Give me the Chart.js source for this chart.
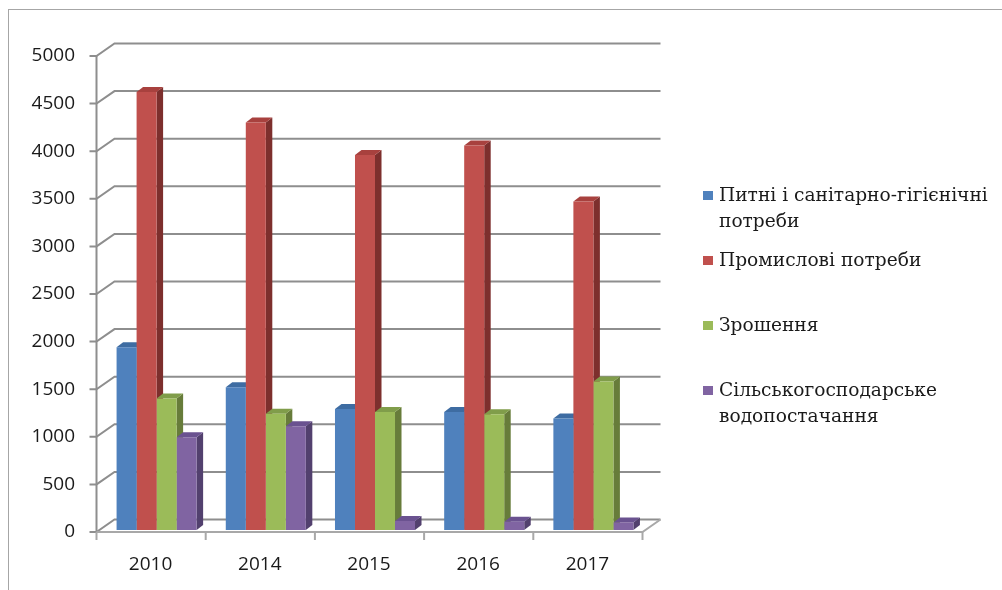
<!DOCTYPE html>
<html>
<head>
<meta charset="utf-8">
<script src="https://cdn.jsdelivr.net/npm/chart.js@4/dist/chart.umd.min.js"></script>
<style>
  html, body { margin: 0; padding: 0; background: #fff; }
  #wrap { position: relative; width: 1002px; height: 590px; overflow: hidden; }
  #frame { position: absolute; left: 8px; top: 9px; width: 1010px; height: 600px; border: 1.5px solid #a6a6a6; box-sizing: border-box; }
  canvas { position: absolute; left: 0; top: 0; }
  #legend { position: absolute; left: 0; top: 0; font-family: 'DejaVu Serif', serif; font-size: 18.6px; color: #1a1a1a; }
  .item { position: absolute; left: 719px; line-height: 26px; white-space: nowrap; }
  .mark { position: absolute; left: -16px; top: 9px; width: 10px; height: 9px; }
</style>
</head>
<body>
<div id="wrap">
  <div id="frame"></div>
  <canvas id="c" width="1002" height="590"></canvas>
  <div id="legend"></div>
</div>
<script>
// ---- data ----
const categories = ['2010', '2014', '2015', '2016', '2017'];
const drinking = [1920, 1500, 1270, 1240, 1170];
const industrial = [4600, 4280, 3940, 4040, 3450];
const irrigation = [1380, 1220, 1240, 1215, 1560];
const agricultural = [975, 1090, 95, 87, 80];
const seriesNames = [
  ['Питні і санітарно-гігієнічні', 'потреби'],
  ['Промислові потреби'],
  ['Зрошення'],
  ['Сільськогосподарське', 'водопостачання']
];
const yMin = 0, yMax = 5000, yStep = 500;

// ---- styles ----
const frontColors = ['#4F81BD', '#C0504D', '#9BBB59', '#8064A2'];
const sideColors = ['#385D8A', '#7D2F2D', '#677C3A', '#52406E'];
const topColors = ['#3E6CA2', '#A8413E', '#809D4A', '#6A5290'];
const legendTops = [182, 247, 312, 377];

const seriesValues = [drinking, industrial, irrigation, agricultural];

const frame3d = {
  id: 'frame3d',
  beforeDatasetsDraw(chart) {
    const { ctx, chartArea, scales } = chart;
    const y = scales.y;
    const shift = -5.5;
    const fx = chartArea.left + shift;
    const rx = chartArea.right + shift;
    const ddx = 18, ddy = -12.5;
    const front = v => y.getPixelForValue(v) + 2;
    ctx.save();
    ctx.strokeStyle = '#8e8e8e';
    ctx.lineWidth = 2;
    ctx.lineJoin = 'miter';
    y.ticks.forEach(t => {
      const yf = front(t.value);
      ctx.beginPath();
      ctx.moveTo(fx - 7, yf);
      ctx.lineTo(fx, yf);
      ctx.lineTo(fx + ddx, yf + ddy);
      ctx.lineTo(rx + ddx, yf + ddy);
      ctx.stroke();
    });
    // left vertical axis
    ctx.beginPath();
    ctx.moveTo(fx, front(yMax));
    ctx.lineTo(fx, front(yMin));
    ctx.stroke();
    // floor
    const f0 = front(yMin);
    ctx.strokeStyle = '#a8a8a8';
    ctx.beginPath();
    ctx.moveTo(fx, f0);
    ctx.lineTo(rx, f0);
    ctx.lineTo(rx + ddx, f0 + ddy);
    ctx.stroke();
    // category ticks
    const n = categories.length;
    const cw = (rx - fx) / n;
    for (let i = 0; i <= n; i++) {
      const xx = fx + i * cw;
      ctx.beginPath();
      ctx.moveTo(xx, f0);
      ctx.lineTo(xx, f0 + 8);
      ctx.stroke();
    }
    // 3D faces of bars
    const bx = 6.5, by = -5;
    for (let i = 0; i < n; i++) {
      chart.data.datasets.forEach((ds, d) => {
        const el = chart.getDatasetMeta(d).data[i];
        if (!el) return;
        const l = el.x - el.width / 2, r = el.x + el.width / 2;
        const t = el.y, b = el.base;
        ctx.fillStyle = sideColors[d];
        ctx.beginPath();
        ctx.moveTo(r, t); ctx.lineTo(r + bx, t + by); ctx.lineTo(r + bx, b + by); ctx.lineTo(r, b);
        ctx.closePath(); ctx.fill();
        ctx.fillStyle = topColors[d];
        ctx.beginPath();
        ctx.moveTo(l, t); ctx.lineTo(r, t); ctx.lineTo(r + bx, t + by); ctx.lineTo(l + bx, t + by);
        ctx.closePath(); ctx.fill();
      });
    }
    ctx.restore();
  }
};

const tickFont = { family: "'Open Sans', 'Liberation Sans', sans-serif", size: 19 };

new Chart(document.getElementById('c'), {
  type: 'bar',
  data: {
    labels: categories,
    datasets: seriesValues.map((vals, d) => ({
      label: seriesNames[d].join(' '),
      data: vals,
      backgroundColor: frontColors[d],
      borderWidth: 0,
      barPercentage: 1,
      categoryPercentage: 0.733
    }))
  },
  options: {
    responsive: false,
    animation: false,
    events: [],
    layout: { padding: { left: 0, right: 354, top: 54, bottom: 0 } },
    plugins: { legend: { display: false }, tooltip: { enabled: false } },
    scales: {
      x: {
        grid: { display: false, drawTicks: false },
        border: { display: false },
        ticks: { font: tickFont, color: '#1a1a1a', padding: 23, labelOffset: -6, maxRotation: 0 },
        afterFit(s) { s.height = 60; }
      },
      y: {
        min: yMin, max: yMax,
        grid: { display: false, drawTicks: false },
        border: { display: false },
        ticks: { stepSize: yStep, font: tickFont, color: '#1a1a1a', padding: 27, labelOffset: 2,
                 callback: v => String(v) },
        afterFit(s) { s.width = 102; }
      }
    }
  },
  plugins: [frame3d]
});

// legend (HTML text)
const legend = document.getElementById('legend');
seriesNames.forEach((lines, d) => {
  const it = document.createElement('div');
  it.className = 'item';
  it.style.top = legendTops[d] + 'px';
  it.innerHTML = '<span class="mark" style="background:' + frontColors[d] + '"></span>' + lines.join('<br>');
  legend.appendChild(it);
});
</script>
</body>
</html>
